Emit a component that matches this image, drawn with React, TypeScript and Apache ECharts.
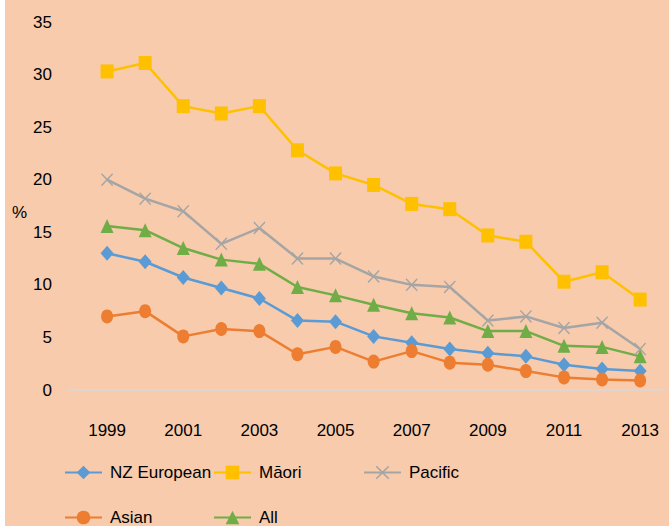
import React, { useEffect, useRef } from "react";
import * as echarts from "echarts";

const years = [1999, 2000, 2001, 2002, 2003, 2004, 2005, 2006, 2007, 2008, 2009, 2010, 2011, 2012, 2013];
const nzEuropean = [13.0, 12.2, 10.7, 9.7, 8.7, 6.6, 6.5, 5.1, 4.5, 3.9, 3.5, 3.2, 2.4, 2.0, 1.8];
const maori = [30.3, 31.1, 27.0, 26.3, 27.0, 22.8, 20.6, 19.5, 17.7, 17.2, 14.7, 14.1, 10.3, 11.2, 8.6];
const pacific = [20.0, 18.2, 17.0, 13.9, 15.4, 12.5, 12.5, 10.8, 10.0, 9.8, 6.6, 7.0, 5.9, 6.4, 3.9];
const asian = [7.0, 7.5, 5.1, 5.8, 5.6, 3.4, 4.1, 2.7, 3.7, 2.6, 2.4, 1.8, 1.2, 1.0, 0.9];
const all = [15.6, 15.2, 13.5, 12.4, 12.0, 9.8, 9.0, 8.1, 7.3, 6.9, 5.6, 5.6, 4.2, 4.1, 3.2];

const FONT = "'Liberation Sans', Arial, sans-serif";
const FS = 17;
const X_ICON =
  "path://M1,0 L7,5.8 L13,0 L14,1.2 L8.2,7 L14,12.8 L13,14 L7,8.2 L1,14 L0,12.8 L5.8,7 L0,1.2 Z";

export default function App() {
  const ref = useRef<HTMLDivElement>(null);
  useEffect(() => {
    if (!ref.current) return;
    const chart = echarts.init(ref.current, undefined, { renderer: "svg" });
    const pairs = (arr: number[]) => years.map((y, i) => [y, arr[i]]);
    const mk = (name: string, data: number[], color: string, symbol: string, size: any) => ({
      name,
      type: "line",
      data: pairs(data),
      symbol,
      symbolSize: size,
      showSymbol: true,
      lineStyle: { color, width: 2.5 },
      itemStyle: { color },
      emphasis: { disabled: true },
      z: 3,
    });
    const legendCommon = {
      itemWidth: 37,
      itemHeight: 17,
      padding: 0,
      textStyle: { fontFamily: FONT, fontSize: FS, color: "#000", padding: [0, 0, 0, 3] },
    };
    chart.setOption({
      animation: false,
      backgroundColor: "#F7CBAC",
      textStyle: { fontFamily: FONT },
      grid: { left: 69, right: 6, top: 22, bottom: 136, containLabel: false },
      graphic: [
        { type: "rect", left: 0, top: 0, shape: { width: 5, height: 526 }, style: { fill: "#ffffff" } },
        {
          type: "text",
          left: 12,
          top: 204,
          style: { text: "%", fontFamily: FONT, fontSize: FS, fill: "#000" },
        },
      ],
      xAxis: {
        type: "value",
        min: 1998,
        max: 2013.6,
        interval: 1,
        splitLine: { show: false },
        axisTick: { show: false },
        axisLine: { show: true, lineStyle: { color: "#D9D9D9", width: 1.5 } },
        axisLabel: {
          showMinLabel: false,
          showMaxLabel: false,
          margin: 32,
          fontSize: FS,
          fontFamily: FONT,
          color: "#000",
          formatter: (v: number) => (Math.round(v) === v && v % 2 === 1 ? String(v) : ""),
        },
      },
      yAxis: {
        type: "value",
        min: 0,
        max: 35,
        interval: 5,
        splitLine: { show: false },
        axisTick: { show: false },
        axisLine: { show: false },
        axisLabel: { margin: 17, fontSize: FS, fontFamily: FONT, color: "#000" },
      },
      legend: [
        { ...legendCommon, left: 64, top: 464, data: ["NZ European"] },
        { ...legendCommon, left: 213, top: 464, data: ["Māori"] },
        { ...legendCommon, left: 363, top: 464, data: ["Pacific"] },
        { ...legendCommon, left: 64, top: 509, data: ["Asian"] },
        { ...legendCommon, left: 213, top: 509, data: ["All"] },
      ],
      series: [
        mk("NZ European", nzEuropean, "#5B9BD5", "diamond", [13, 15]),
        mk("Māori", maori, "#FFC000", "rect", [13, 14]),
        mk("Pacific", pacific, "#A5A5A5", X_ICON, [12, 13]),
        mk("Asian", asian, "#ED7D31", "circle", [12, 14]),
        mk("All", all, "#70AD47", "triangle", [13, 14]),
      ],
    });
    return () => chart.dispose();
  }, []);
  return (
    <div
      ref={ref}
      style={{ position: "absolute", left: 0, top: 0, width: 669, height: 526 }}
    />
  );
}
